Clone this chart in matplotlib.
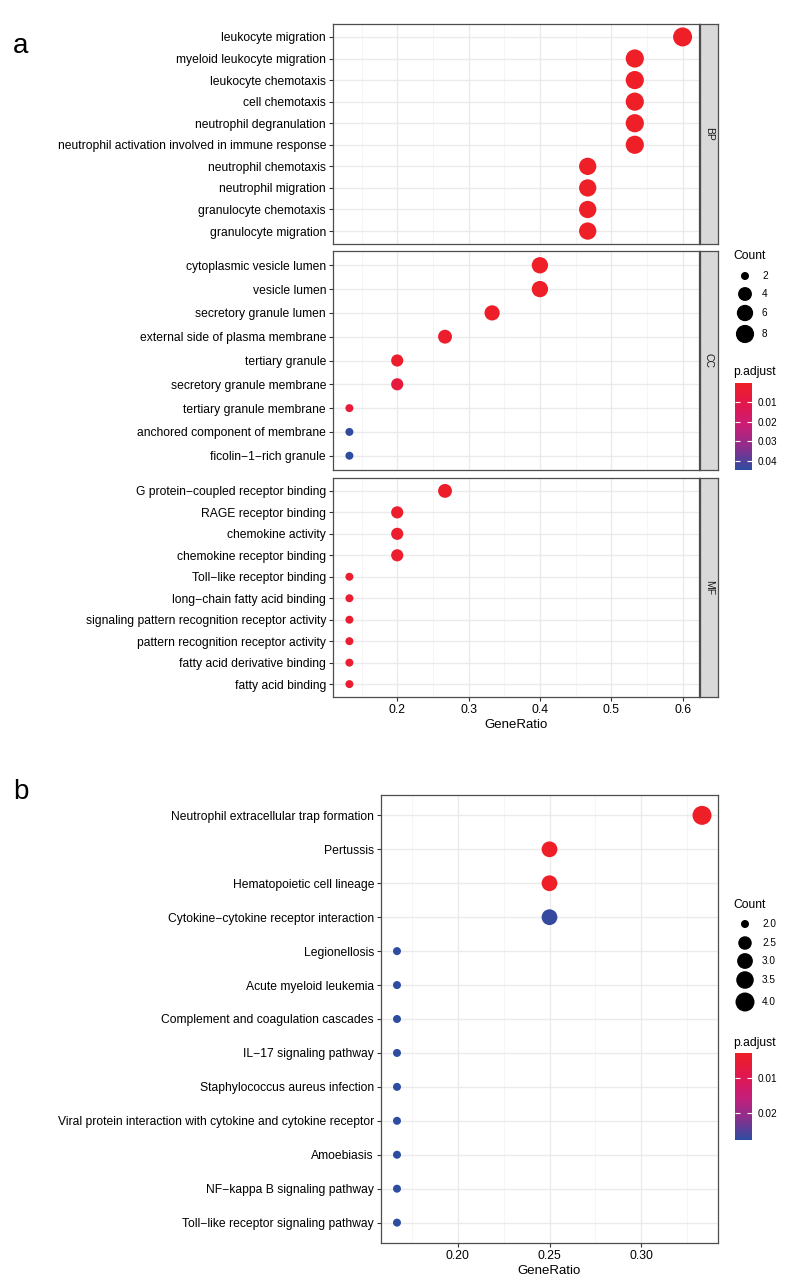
import matplotlib
matplotlib.use("Agg")
import matplotlib.pyplot as plt
import numpy as np
from matplotlib.colors import LinearSegmentedColormap, Normalize

plt.rcParams['font.family'] = ['Liberation Sans', 'DejaVu Sans']

W, H = 800, 1283

# ---- panel a data (GO enrichment) ----
bp_terms = ["leukocyte migration", "myeloid leukocyte migration", "leukocyte chemotaxis",
            "cell chemotaxis", "neutrophil degranulation",
            "neutrophil activation involved in immune response", "neutrophil chemotaxis",
            "neutrophil migration", "granulocyte chemotaxis", "granulocyte migration"]
bp_ratio = [0.600, 0.533, 0.533, 0.533, 0.533, 0.533, 0.467, 0.467, 0.467, 0.467]
bp_count = [9, 8, 8, 8, 8, 8, 7, 7, 7, 7]
bp_padj = [0.0001, 0.0002, 0.0002, 0.0003, 0.0003, 0.0003, 0.0004, 0.0004, 0.0005, 0.0005]

cc_terms = ["cytoplasmic vesicle lumen", "vesicle lumen", "secretory granule lumen",
            "external side of plasma membrane", "tertiary granule",
            "secretory granule membrane", "tertiary granule membrane",
            "anchored component of membrane", "ficolin\u22121\u2212rich granule"]
cc_ratio = [0.400, 0.400, 0.333, 0.267, 0.200, 0.200, 0.133, 0.133, 0.133]
cc_count = [6, 6, 5, 4, 3, 3, 2, 2, 2]
cc_padj = [0.0005, 0.0005, 0.001, 0.002, 0.002, 0.007, 0.006, 0.044, 0.0448]

mf_terms = ["G protein\u2212coupled receptor binding", "RAGE receptor binding",
            "chemokine activity", "chemokine receptor binding",
            "Toll\u2212like receptor binding", "long\u2212chain fatty acid binding",
            "signaling pattern recognition receptor activity",
            "pattern recognition receptor activity", "fatty acid derivative binding",
            "fatty acid binding"]
mf_ratio = [0.267, 0.200, 0.200, 0.200, 0.133, 0.133, 0.133, 0.133, 0.133, 0.133]
mf_count = [4, 3, 3, 3, 2, 2, 2, 2, 2, 2]
mf_padj = [0.001, 0.002, 0.002, 0.002, 0.003, 0.003, 0.003, 0.003, 0.003, 0.003]

a_xticks = [0.2, 0.3, 0.4, 0.5, 0.6]
a_count_breaks = [2, 4, 6, 8]
a_padj_ticks = [0.01, 0.02, 0.03, 0.04]

# ---- panel b data (KEGG enrichment) ----
kegg_terms = ["Neutrophil extracellular trap formation", "Pertussis",
              "Hematopoietic cell lineage", "Cytokine\u2212cytokine receptor interaction",
              "Legionellosis", "Acute myeloid leukemia", "Complement and coagulation cascades",
              "IL\u221217 signaling pathway", "Staphylococcus aureus infection",
              "Viral protein interaction with cytokine and cytokine receptor",
              "Amoebiasis", "NF\u2212kappa B signaling pathway",
              "Toll\u2212like receptor signaling pathway"]
kegg_ratio = [0.333, 0.250, 0.250, 0.250, 0.167, 0.167, 0.167, 0.167, 0.167, 0.167,
              0.167, 0.167, 0.167]
kegg_count = [4, 3, 3, 3, 2, 2, 2, 2, 2, 2, 2, 2, 2]
kegg_padj = [0.0029, 0.0031, 0.0031, 0.0272, 0.0278, 0.0278, 0.0278, 0.0278, 0.0278,
             0.0278, 0.0278, 0.0278, 0.0278]

b_xticks = [0.20, 0.25, 0.30]
b_count_breaks = [2.0, 2.5, 3.0, 3.5, 4.0]
b_padj_ticks = [0.01, 0.02]

cmap = LinearSegmentedColormap.from_list(
    "padj", ["#EE1F26", "#E2174E", "#C71E78", "#8A2F8E", "#2C4DA0"])


def box(x0, y0, x1, y1):
    return [x0 / W, 1 - y1 / H, (x1 - x0) / W, (y1 - y0) / H]


def size_fn(c, cmin, cmax, dmin=8.0, dmax=19.0):
    c = np.asarray(c, dtype=float)
    d = dmin + np.sqrt((c - cmin) / (cmax - cmin)) * (dmax - dmin)
    return (d * 72.0 / 100.0) ** 2


def draw_panel(ax, terms, ratio, count, padj, norm, cmin, cmax, xlim, xticks, minor):
    n = len(terms)
    y = np.arange(n)
    sc = ax.scatter(ratio, y, s=size_fn(count, cmin, cmax), c=padj, cmap=cmap,
                    norm=norm, linewidths=0, zorder=3)
    ax.set_xlim(*xlim)
    ax.set_ylim(n - 0.4, -0.6)
    ax.set_yticks(y)
    ax.set_yticklabels(terms, fontsize=8.7, color='black')
    ax.set_xticks(xticks)
    ax.set_xticks(minor, minor=True)
    ax.grid(which='major', color='#EBEBEB', lw=1.0)
    ax.grid(which='minor', axis='x', color='#F2F2F2', lw=0.5)
    ax.set_axisbelow(True)
    for s in ax.spines.values():
        s.set_color('#4D4D4D')
        s.set_linewidth(0.9)
    ax.tick_params(which='major', length=3, width=0.8, color='#333333', pad=2,
                   labelsize=8.7, labelcolor='black')
    ax.tick_params(which='minor', length=0)
    return sc


def strip(x0, y0, x1, y1, label):
    sa = fig.add_axes(box(x0, y0, x1, y1))
    sa.set_facecolor('#D9D9D9')
    sa.set_xticks([])
    sa.set_yticks([])
    for s in sa.spines.values():
        s.set_color('#4D4D4D')
        s.set_linewidth(0.9)
    sa.text(0.5, 0.5, label, rotation=270, ha='center', va='center',
            fontsize=7.5, color='#1A1A1A', transform=sa.transAxes)


def colorbar(sc, x0, y0, x1, y1, ticks):
    cax = fig.add_axes(box(x0, y0, x1, y1))
    cb = fig.colorbar(sc, cax=cax)
    cb.outline.set_visible(False)
    cb.set_ticks(ticks)
    cb.set_ticklabels([f"{t:.2f}" for t in ticks])
    cax.invert_yaxis()
    cax.tick_params(axis='y', direction='in', color='white', length=3.5, width=0.8,
                    left=True, right=True, labelleft=False, labelright=True,
                    labelsize=7.2, pad=4)


fig = plt.figure(figsize=(W / 100, H / 100), dpi=100)

# overlay for legend keys, positions in pixels
lg = fig.add_axes([0, 0, 1, 1])
lg.set_xlim(0, W)
lg.set_ylim(H, 0)
lg.axis('off')

# ---------------- panel a ----------------
a_min = min(bp_count + cc_count + mf_count)
a_max = max(bp_count + cc_count + mf_count)
norm_a = Normalize(vmin=0.0, vmax=0.0448)
a_xlim = (0.110, 0.623)
a_minor = [0.15, 0.25, 0.35, 0.45, 0.55]

panels_a = [(bp_terms, bp_ratio, bp_count, bp_padj, 24, 244, "BP"),
            (cc_terms, cc_ratio, cc_count, cc_padj, 251, 470, "CC"),
            (mf_terms, mf_ratio, mf_count, mf_padj, 478, 697, "MF")]
for i, (t, r, c, p, y0, y1, lab) in enumerate(panels_a):
    ax = fig.add_axes(box(333, y0, 699, y1))
    sc_a = draw_panel(ax, t, r, c, p, norm_a, a_min, a_max, a_xlim, a_xticks, a_minor)
    if i < 2:
        ax.tick_params(axis='x', which='both', bottom=False, labelbottom=False)
    else:
        ax.set_xticklabels([f"{v:.1f}" for v in a_xticks])
        ax.set_xlabel("GeneRatio", fontsize=9.5, labelpad=2)
    strip(700, y0, 718, y1, lab)

fig.text(21 / W, 1 - 46 / H, "a", fontsize=20, ha='center', va='center')

# size legend a
fig.text(733 / W, 1 - 256 / H, "Count", fontsize=8.7, va='center', ha='left')
a_key_y = [276, 294, 313, 334]
lg.scatter([745] * len(a_count_breaks), a_key_y, s=size_fn(a_count_breaks, a_min, a_max),
           color='black', linewidths=0)
for v, yy in zip(a_count_breaks, a_key_y):
    lg.text(762, yy, str(v), fontsize=7.2, va='center', ha='left')

fig.text(733 / W, 1 - 372 / H, "p.adjust", fontsize=8.7, va='center', ha='left')
colorbar(sc_a, 735, 383, 752, 470, a_padj_ticks)

# ---------------- panel b ----------------
b_min = min(kegg_count)
b_max = max(kegg_count)
norm_b = Normalize(vmin=0.0029, vmax=0.0278)
axb = fig.add_axes(box(381, 795, 718, 1243))
sc_b = draw_panel(axb, kegg_terms, kegg_ratio, kegg_count, kegg_padj, norm_b, b_min, b_max,
                  (0.1583, 0.3417), b_xticks, [0.175, 0.225, 0.275, 0.325])
axb.set_xticklabels([f"{v:.2f}" for v in b_xticks])
axb.set_xlabel("GeneRatio", fontsize=9.5, labelpad=2)

fig.text(21 / W, 1 - 792 / H, "b", fontsize=20, ha='center', va='center')

fig.text(733 / W, 1 - 905 / H, "Count", fontsize=8.7, va='center', ha='left')
b_key_y = [924, 943, 961, 980, 1002]
lg.scatter([745] * len(b_count_breaks), b_key_y, s=size_fn(b_count_breaks, b_min, b_max),
           color='black', linewidths=0)
for v, yy in zip(b_count_breaks, b_key_y):
    lg.text(762, yy, f"{v:.1f}", fontsize=7.2, va='center', ha='left')

fig.text(733 / W, 1 - 1043 / H, "p.adjust", fontsize=8.7, va='center', ha='left')
colorbar(sc_b, 735, 1053, 752, 1140, b_padj_ticks)

fig.savefig("out.png", dpi=100)
